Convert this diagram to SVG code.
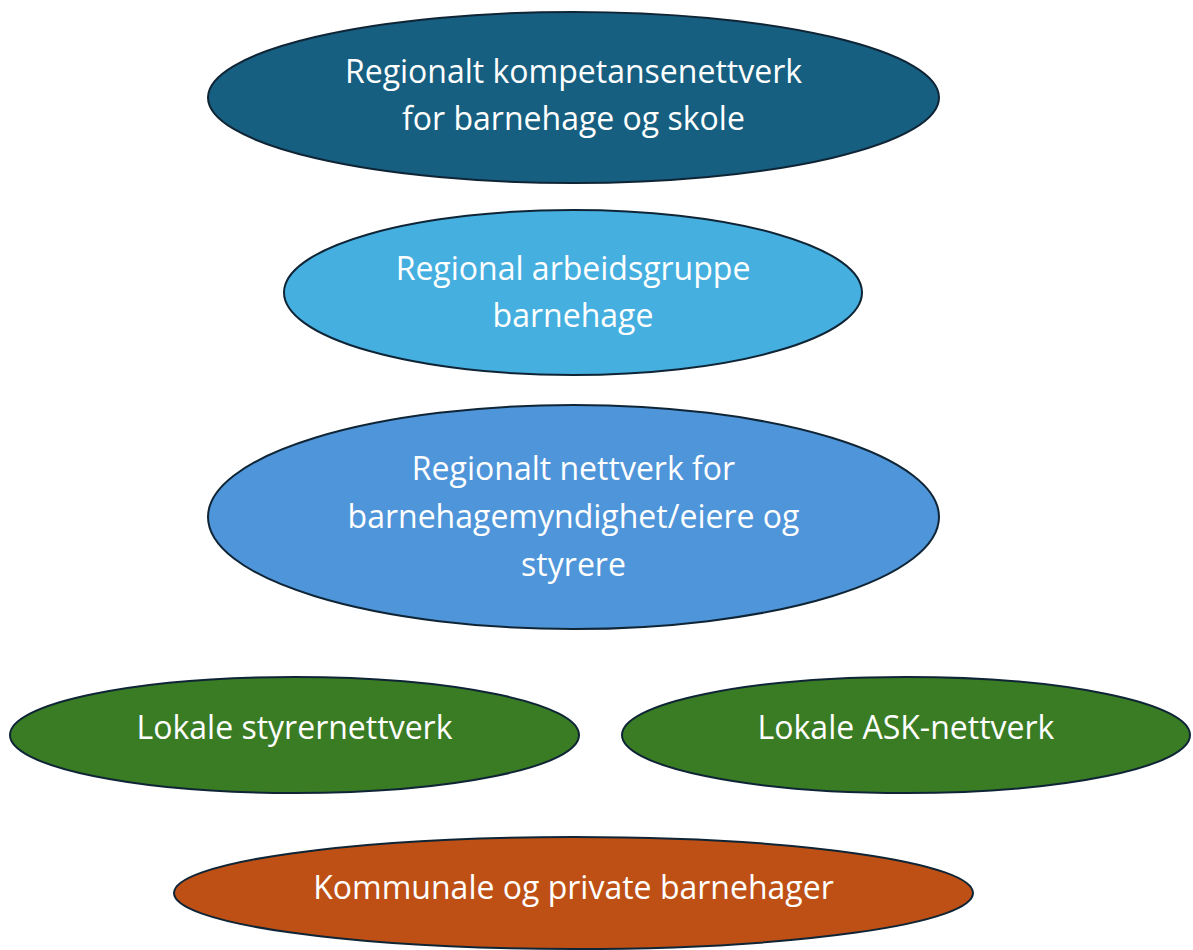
<svg xmlns="http://www.w3.org/2000/svg" width="1193" height="950" viewBox="0 0 1193 950">
<style>
.n{stroke:#0f2536;stroke-width:2}
.t{font-family:"Open Sans","Noto Sans",sans-serif;font-size:32px;fill:#ffffff;text-anchor:middle}
</style>
<rect width="1193" height="950" fill="#ffffff"/>
<g id="connectors"></g>
<g id="n1"><ellipse class="n" cx="573.5" cy="97.5" rx="365.5" ry="85.5" fill="#175f80"/>
<text class="t" x="573.5" y="83">Regionalt kompetansenettverk</text>
<text class="t" x="573.5" y="130">for barnehage og skole</text></g>
<g id="n2"><ellipse class="n" cx="573" cy="292.5" rx="289" ry="82.5" fill="#45afe0"/>
<text class="t" x="573" y="280">Regional arbeidsgruppe</text>
<text class="t" x="573" y="327">barnehage</text></g>
<g id="n3"><ellipse class="n" cx="573.5" cy="517" rx="365.5" ry="112" fill="#4f95d9"/>
<text class="t" x="573.5" y="480">Regionalt nettverk for</text>
<text class="t" x="573.5" y="528">barnehagemyndighet/eiere og</text>
<text class="t" x="573.5" y="576">styrere</text></g>
<g id="n4"><ellipse class="n" cx="294.5" cy="735" rx="284.5" ry="58" fill="#3a7c24"/>
<text class="t" x="294.5" y="739">Lokale styrernettverk</text></g>
<g id="n5"><ellipse class="n" cx="906" cy="735" rx="284" ry="58" fill="#3a7c24"/>
<text class="t" x="906" y="739">Lokale ASK-nettverk</text></g>
<g id="n6"><ellipse class="n" cx="573.5" cy="893" rx="399.5" ry="56" fill="#be5015"/>
<text class="t" x="573.5" y="899">Kommunale og private barnehager</text></g>
</svg>
